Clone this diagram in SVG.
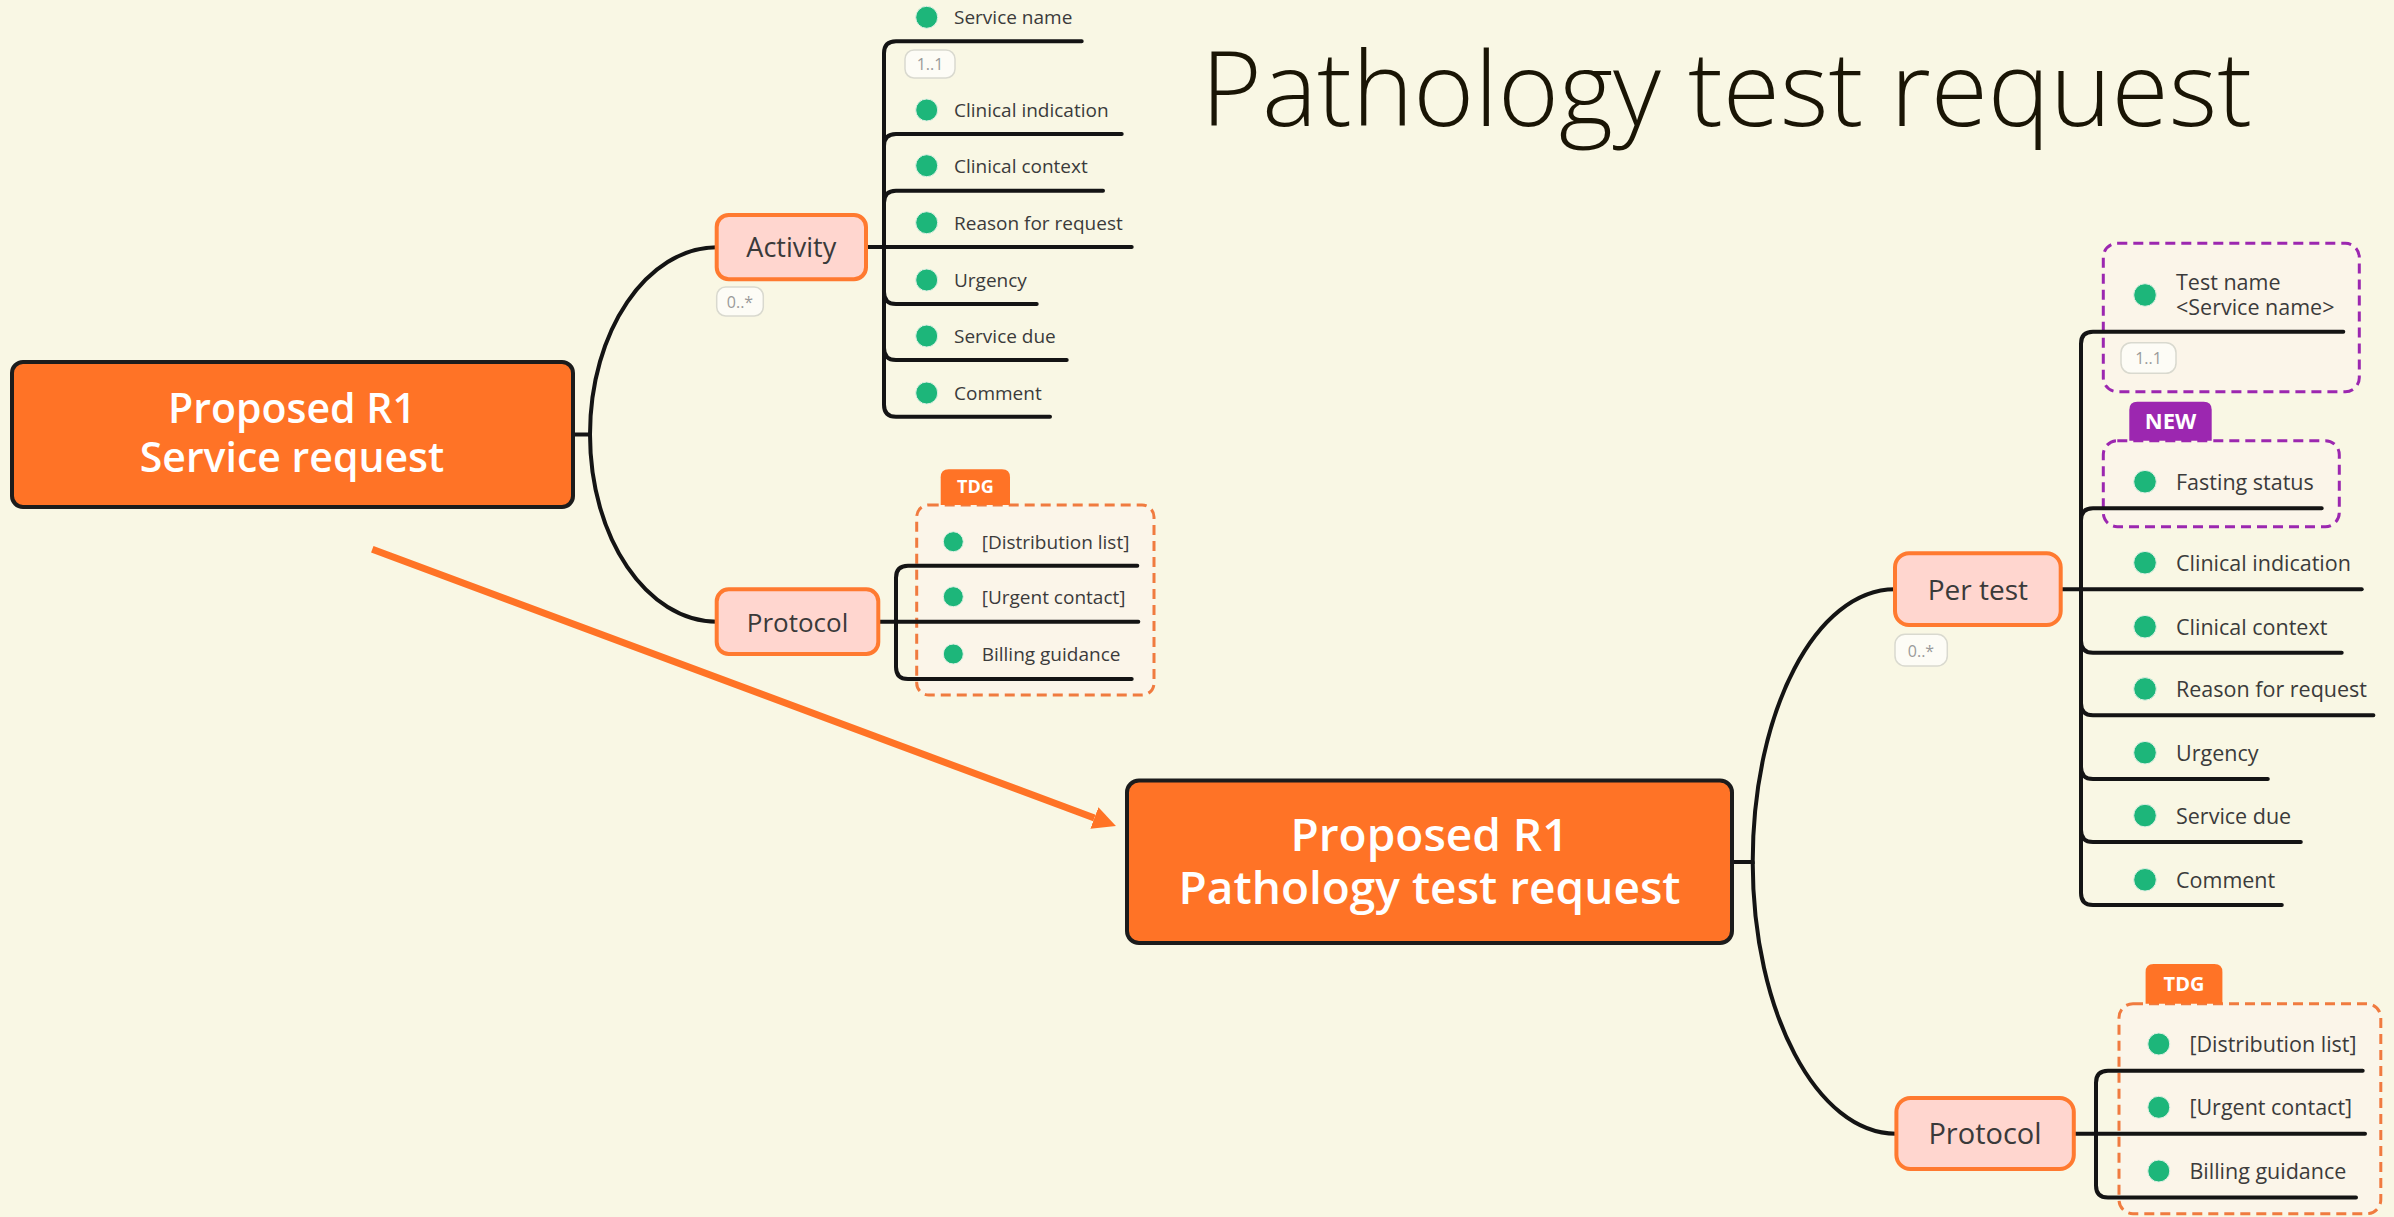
<svg xmlns="http://www.w3.org/2000/svg" width="2394" height="1217" viewBox="0 0 2394 1217">
<style>
.bg{fill:#F9F7E4}
.title{font-family:"Open Sans","Liberation Sans",sans-serif;font-weight:300;fill:#1a1505}
.main rect{fill:#FF7326;stroke:#1c1c1c;stroke-width:4}
.main text{font-family:"Open Sans","Liberation Sans",sans-serif;font-weight:600;fill:#ffffff;text-anchor:middle}
.sub rect{fill:#FFD6CF;stroke:#FF7A30;stroke-width:4}
.sub text{font-family:"Open Sans","Liberation Sans",sans-serif;fill:#3a3a3a;text-anchor:middle}
.leaf text{font-family:"Open Sans","Liberation Sans",sans-serif;fill:#3b3b3b}
.leaf circle{fill:#1DB67A;stroke:#dff0e4;stroke-width:1}
.ls text{font-size:19px}
.rs text{font-size:21.5px}
.edge{fill:none;stroke:#141414;stroke-width:4;stroke-linecap:round}
.badge rect{fill:#FDFCF6;stroke:#D9D9CF;stroke-width:1.5}
.badge text{font-family:"Open Sans","Liberation Sans",sans-serif;font-size:16px;fill:#9a9a9a;text-anchor:middle}
.grp-o{fill:#FBF5E9;stroke:#F07B3F;stroke-width:3;stroke-dasharray:10 6}
.grp-p{fill:#FBF5E9;stroke:#9C27B0;stroke-width:3;stroke-dasharray:10 6}
.tag text{font-family:"Open Sans","Liberation Sans",sans-serif;font-weight:700;fill:#ffffff;text-anchor:middle}
.arrow{fill:none;stroke:#FF7326;stroke-width:7}
</style>
<defs>
<marker id="ah" viewBox="0 0 23 23" refX="0" refY="11.5" markerWidth="23" markerHeight="23" markerUnits="userSpaceOnUse" orient="auto">
<path d="M0,0 L23,11.5 L0,23 Z" fill="#FF7326"/>
</marker>
</defs>
<rect class="bg" x="0" y="0" width="2394" height="1217"/>

<text class="title" x="1201" y="126" font-size="104" textLength="1051" lengthAdjust="spacingAndGlyphs">Pathology test request</text>

<g id="boundaries">
<rect class="grp-o" x="916.7" y="505" width="237.3" height="190" rx="12"/>
<path d="M940.7,505 V477.3 Q940.7,469.3 948.7,469.3 H1002 Q1010,469.3 1010,477.3 V505 Z" fill="#FF7326"/>
<rect class="grp-p" x="2103.3" y="243.3" width="256" height="148.4" rx="14"/>
<rect class="grp-p" x="2103.3" y="440.7" width="236" height="86" rx="14"/>
<path d="M2129.3,440.7 V409.7 Q2129.3,401.7 2137.3,401.7 H2203.7 Q2211.7,401.7 2211.7,409.7 V440.7 Z" fill="#9C27B0"/>
<rect class="grp-o" x="2119" y="1003.7" width="261.8" height="210" rx="14"/>
<path d="M2145.6,1003.7 V972 Q2145.6,964 2153.6,964 H2214.4 Q2222.4,964 2222.4,972 V1003.7 Z" fill="#FF7326"/>
<g class="tag">
<text x="975.4" y="493" font-size="18">TDG</text>
<text x="2170.5" y="429" font-size="22">NEW</text>
<text x="2184" y="991" font-size="20">TDG</text>
</g>
</g>

<g id="connectors">
<path class="edge" d="M573,434.5 H590 C590,331 647,247.3 717,247.3"/>
<path class="edge" d="M590,434.5 C590,538 647,621.7 717,621.7"/>
<path class="edge" d="M866,247 H1131.7"/>
<path class="edge" d="M884,247 V53.3 Q884,41.3 896,41.3 H1081.7"/>
<path class="edge" d="M884,247 V146 Q884,134 896,134 H1121.7"/>
<path class="edge" d="M884,247 V202.7 Q884,190.7 896,190.7 H1103"/>
<path class="edge" d="M884,247 V292 Q884,304 896,304 H1036.7"/>
<path class="edge" d="M884,247 V348 Q884,360 896,360 H1066.7"/>
<path class="edge" d="M884,247 V404.7 Q884,416.7 896,416.7 H1050"/>
<path class="edge" d="M878,621.7 H1138.3"/>
<path class="edge" d="M896,621.7 V577.7 Q896,565.7 908,565.7 H1137.3"/>
<path class="edge" d="M896,621.7 V667 Q896,679 908,679 H1131.7"/>
<path class="edge" d="M1732,862 H1752.7 C1752.7,711 1816,589.3 1895,589.3"/>
<path class="edge" d="M1752.7,862 C1752.7,1012 1817,1133.7 1896,1133.7"/>
<path class="edge" d="M2060,589.3 H2361.7"/>
<path class="edge" d="M2081,589.3 V343.7 Q2081,331.7 2093,331.7 H2343.3"/>
<path class="edge" d="M2081,589.3 V520.3 Q2081,508.3 2093,508.3 H2321.7"/>
<path class="edge" d="M2081,589.3 V640.7 Q2081,652.7 2093,652.7 H2341.7"/>
<path class="edge" d="M2081,589.3 V703.3 Q2081,715.3 2093,715.3 H2373.4"/>
<path class="edge" d="M2081,589.3 V767 Q2081,779 2093,779 H2267.8"/>
<path class="edge" d="M2081,589.3 V830 Q2081,842 2093,842 H2300.8"/>
<path class="edge" d="M2081,589.3 V893 Q2081,905 2093,905 H2281.8"/>
<path class="edge" d="M2074,1133.7 H2365"/>
<path class="edge" d="M2096,1133.7 V1082.8 Q2096,1070.8 2108,1070.8 H2362.7"/>
<path class="edge" d="M2096,1133.7 V1185.5 Q2096,1197.5 2108,1197.5 H2356"/>
<path class="arrow" d="M372.3,549.3 L1094.4,818" marker-end="url(#ah)"/>
</g>

<g id="node-service-request" class="main">
<rect x="12" y="362" width="561" height="145" rx="11"/>
<text font-size="41"><tspan x="292" y="423">Proposed R1</tspan><tspan x="292" y="471.7">Service request</tspan></text>
</g>

<g id="node-pathology" class="main">
<rect x="1127" y="780.5" width="605" height="162.5" rx="12"/>
<text font-size="46"><tspan x="1429.5" y="850.5">Proposed R1</tspan><tspan x="1429.5" y="904">Pathology test request</tspan></text>
</g>

<g id="node-activity" class="sub">
<rect x="716.7" y="215" width="149.3" height="64.3" rx="12"/>
<text x="791.3" y="256.7" font-size="27">Activity</text>
</g>
<g id="badge-activity" class="badge">
<rect x="716.7" y="287" width="46.6" height="29" rx="9"/>
<text x="740" y="307.5">0..*</text>
</g>

<g id="node-protocol-1" class="sub">
<rect x="716.7" y="589.3" width="161.6" height="64.7" rx="12"/>
<text x="797.5" y="631.7" font-size="26">Protocol</text>
</g>

<g id="node-per-test" class="sub">
<rect x="1895" y="553.3" width="165.7" height="71.7" rx="14"/>
<text x="1977.8" y="600" font-size="28">Per test</text>
</g>
<g id="badge-per-test" class="badge">
<rect x="1895" y="634.3" width="52.3" height="31.7" rx="10"/>
<text x="1921" y="656.5">0..*</text>
</g>

<g id="node-protocol-2" class="sub">
<rect x="1896.4" y="1098" width="177.4" height="71" rx="14"/>
<text x="1985" y="1144" font-size="29">Protocol</text>
</g>

<g id="leaf-service-name" class="leaf ls"><circle cx="926.7" cy="17.3" r="11"/><text x="954" y="24.3">Service name</text></g>
<g id="badge-service-name" class="badge"><rect x="905" y="50" width="50" height="28" rx="9"/><text x="930" y="70">1..1</text></g>
<g id="leaf-clinical-indication-1" class="leaf ls"><circle cx="926.7" cy="110" r="11"/><text x="954" y="117">Clinical indication</text></g>
<g id="leaf-clinical-context-1" class="leaf ls"><circle cx="926.7" cy="165.7" r="11"/><text x="954" y="172.7">Clinical context</text></g>
<g id="leaf-reason-1" class="leaf ls"><circle cx="926.7" cy="222.7" r="11"/><text x="954" y="229.7">Reason for request</text></g>
<g id="leaf-urgency-1" class="leaf ls"><circle cx="926.7" cy="280" r="11"/><text x="954" y="287">Urgency</text></g>
<g id="leaf-service-due-1" class="leaf ls"><circle cx="926.7" cy="336" r="11"/><text x="954" y="343">Service due</text></g>
<g id="leaf-comment-1" class="leaf ls"><circle cx="926.7" cy="393" r="11"/><text x="954" y="400">Comment</text></g>

<g id="leaf-distribution-1" class="leaf ls"><circle cx="953.3" cy="541.7" r="10"/><text x="981.7" y="548.7">[Distribution list]</text></g>
<g id="leaf-urgent-contact-1" class="leaf ls"><circle cx="953.3" cy="596.7" r="10"/><text x="981.7" y="603.7">[Urgent contact]</text></g>
<g id="leaf-billing-1" class="leaf ls"><circle cx="953.3" cy="654" r="10"/><text x="981.7" y="661">Billing guidance</text></g>

<g id="leaf-test-name" class="leaf rs"><circle cx="2145" cy="295" r="11.3"/><text><tspan x="2176" y="290">Test name</tspan><tspan x="2176" y="315">&lt;Service name&gt;</tspan></text></g>
<g id="badge-test-name" class="badge"><rect x="2121" y="342.7" width="55" height="30.6" rx="10"/><text x="2148.5" y="364">1..1</text></g>
<g id="leaf-fasting" class="leaf rs"><circle cx="2145" cy="481.7" r="11.3"/><text x="2176" y="489.7">Fasting status</text></g>
<g id="leaf-clinical-indication-2" class="leaf rs"><circle cx="2145" cy="562.7" r="11.3"/><text x="2176" y="570.7">Clinical indication</text></g>
<g id="leaf-clinical-context-2" class="leaf rs"><circle cx="2145" cy="626.7" r="11.3"/><text x="2176" y="634.7">Clinical context</text></g>
<g id="leaf-reason-2" class="leaf rs"><circle cx="2145" cy="688.9" r="11.3"/><text x="2176" y="696.9">Reason for request</text></g>
<g id="leaf-urgency-2" class="leaf rs"><circle cx="2145" cy="752.7" r="11.3"/><text x="2176" y="760.7">Urgency</text></g>
<g id="leaf-service-due-2" class="leaf rs"><circle cx="2145" cy="815.6" r="11.3"/><text x="2176" y="823.6">Service due</text></g>
<g id="leaf-comment-2" class="leaf rs"><circle cx="2145" cy="879.8" r="11.3"/><text x="2176" y="887.8">Comment</text></g>

<g id="leaf-distribution-2" class="leaf rs"><circle cx="2158.8" cy="1044" r="11"/><text x="2189.4" y="1052">[Distribution list]</text></g>
<g id="leaf-urgent-contact-2" class="leaf rs"><circle cx="2158.8" cy="1107.3" r="11"/><text x="2189.4" y="1115.3">[Urgent contact]</text></g>
<g id="leaf-billing-2" class="leaf rs"><circle cx="2158.8" cy="1171" r="11"/><text x="2189.4" y="1179">Billing guidance</text></g>
</svg>
